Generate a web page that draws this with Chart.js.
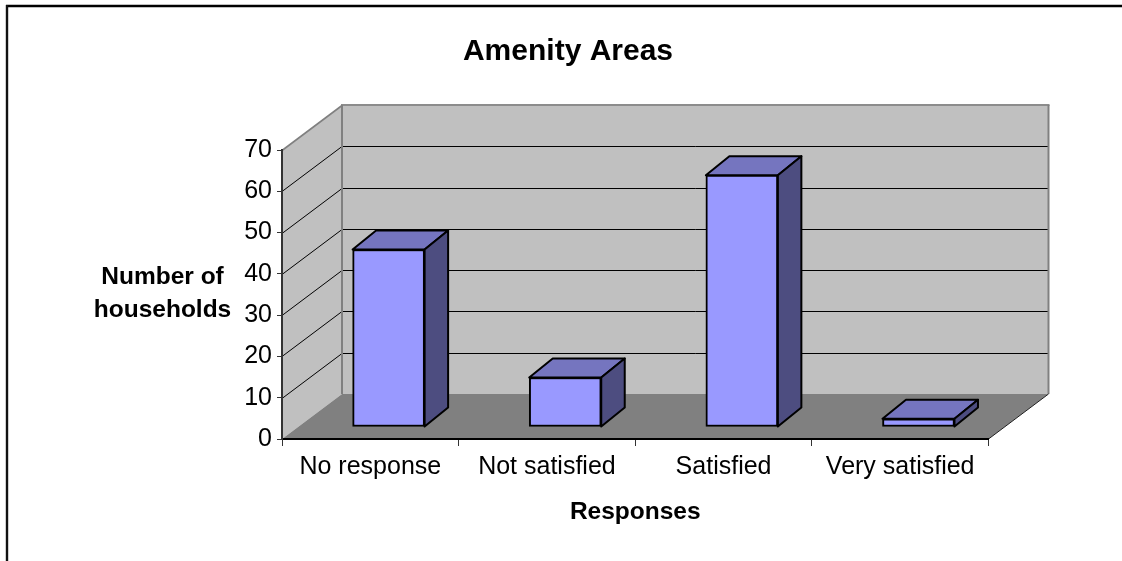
<!DOCTYPE html>
<html><head><meta charset="utf-8">
<style>html,body{margin:0;padding:0;background:#fff}canvas{display:block}</style>
<script src="https://cdn.jsdelivr.net/npm/chart.js@4"></script></head>
<body><div style="width:1122px;height:561px"><canvas id="c" width="1122" height="561"></canvas></div>
<script>
const categories = ['No response','Not satisfied','Satisfied','Very satisfied'];
const households = [43,12,61,2];
const titleText = 'Amenity Areas';
const xTitle = 'Responses';
const yTitleLines = ['Number of','households'];
const FONT = '"Liberation Sans", Arial, sans-serif';
const WALL = {dx:60, dy:-45};
const BAR = {dx:18.3, dy:-12, depthX:23.5, depthY:-19};

function poly(ctx, pts, fill, stroke, lw){
  ctx.beginPath();
  pts.forEach((p,i)=> i?ctx.lineTo(p[0],p[1]):ctx.moveTo(p[0],p[1]));
  ctx.closePath();
  if(fill){ctx.fillStyle=fill;ctx.fill();}
  if(stroke){ctx.strokeStyle=stroke;ctx.lineWidth=lw;ctx.lineJoin='round';ctx.stroke();}
}
function line(ctx,x1,y1,x2,y2,c,w){ctx.beginPath();ctx.moveTo(x1,y1);ctx.lineTo(x2,y2);ctx.strokeStyle=c;ctx.lineWidth=w;ctx.stroke();}

const frame3d = {
  id:'frame3d',
  beforeDraw(chart){
    const {ctx,chartArea:a,scales:{y}} = chart;
    const {dx,dy}=WALL;
    ctx.save();
    line(ctx,6,6,1122,6,'#000',2.4);
    line(ctx,7,5,7,561,'#111',2.4);
    poly(ctx,[[a.left+dx,a.top+dy],[a.right+dx,a.top+dy],[a.right+dx,a.bottom+dy],[a.left+dx,a.bottom+dy]],'#c0c0c0');
    poly(ctx,[[a.left,a.top],[a.left+dx,a.top+dy],[a.left+dx,a.bottom+dy],[a.left,a.bottom]],'#c0c0c0');
    poly(ctx,[[a.left,a.bottom],[a.left+dx,a.bottom+dy],[a.right+dx,a.bottom+dy],[a.right,a.bottom]],'#808080');
    y.ticks.forEach(t=>{
      if(t.value===0) return;
      const p=Math.round(y.getPixelForValue(t.value))+.5;
      const top=t.value===y.max;
      const col=top?'#808080':'#000';
      line(ctx,a.left,p,a.left+dx,p+dy,col,top?1.6:1);
      if(!top) line(ctx,a.left+dx,p+dy,a.right+dx,p+dy,col,1);
    });
    line(ctx,a.left+dx-1,a.top+dy,a.right+dx+1,a.top+dy,'#8c8c8c',2);
    line(ctx,a.left+dx,a.top+dy,a.left+dx,a.bottom+dy,'#808080',2);
    line(ctx,a.right+dx,a.top+dy,a.right+dx,a.bottom+dy,'#808080',2);
    line(ctx,a.right,a.bottom,a.right+dx,a.bottom+dy,'#222',1);
    ctx.fillStyle='#000';ctx.font='bold 24.5px '+FONT;ctx.textAlign='center';ctx.textBaseline='middle';
    ctx.fillText(yTitleLines[0],162.5,277);
    ctx.fillText(yTitleLines[1],162.5,310);
    ctx.restore();
  },
  beforeDatasetDraw(chart,args){
    const ctx=chart.ctx;
    ctx.save();
    ctx.translate(BAR.dx,BAR.dy);
    const {depthX:ex,depthY:ey}=BAR;
    args.meta.data.forEach(b=>{
      const l=b.x-b.width/2,r=b.x+b.width/2,t=b.y,bo=b.base;
      poly(ctx,[[l,t],[l+ex,t+ey],[r+ex,t+ey],[r,t]],'#7575bf','#000',2);
      poly(ctx,[[r,t],[r+ex,t+ey],[r+ex,bo+ey],[r,bo]],'#4d4d80','#000',2);
    });
  },
  afterDatasetDraw(chart){chart.ctx.restore();}
};

new Chart(document.getElementById('c'),{
  type:'bar',
  data:{labels:categories,datasets:[{data:households,backgroundColor:'#9999ff',borderColor:'#000',borderWidth:2,borderSkipped:false,barThickness:72,clip:false}]},
  plugins:[frame3d],
  options:{
    responsive:false,animation:false,
    layout:{padding:{left:14,right:0,top:0,bottom:0}},
    plugins:{
      legend:{display:false},tooltip:{enabled:false},
      title:{display:true,text:titleText,color:'#000',font:{family:FONT,size:30,weight:'bold'},padding:{top:34,bottom:80},fullSize:true}
    },
    scales:{
      x:{
        grid:{drawOnChartArea:false,drawTicks:true,tickLength:7,color:'#333',offset:true},
        border:{color:'#000',width:2},
        ticks:{color:'#000',font:{family:FONT,size:25},padding:6,maxRotation:0,autoSkip:false},
        title:{display:true,text:xTitle,color:'#000',font:{family:FONT,size:24.5,weight:'bold'},padding:{top:0,bottom:34}},
        afterFit(s){s.height=122;}
      },
      y:{
        min:0,max:70,
        grid:{drawOnChartArea:false,drawTicks:true,tickLength:5,color:'#333'},
        border:{color:'#333',width:2},
        ticks:{stepSize:10,color:'#000',font:{family:FONT,size:25},padding:5},
        afterFit(s){s.width=268;}
      },
      pad:{
        position:'right',display:true,min:0,max:1,
        grid:{display:false},border:{display:false},ticks:{display:false},
        afterFit(s){s.width=133.5;}
      }
    }
  }
});
</script></body></html>
